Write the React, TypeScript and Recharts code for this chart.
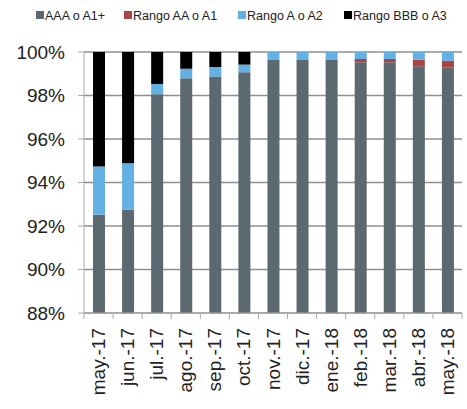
import { BarChart, Bar, XAxis, YAxis, CartesianGrid } from 'recharts'

const months = ['may.-17', 'jun.-17', 'jul.-17', 'ago.-17', 'sep.-17', 'oct.-17', 'nov.-17', 'dic.-17', 'ene.-18', 'feb.-18', 'mar.-18', 'abr.-18', 'may.-18']
const aaa = [92.52, 92.75, 98.06, 98.79, 98.87, 99.07, 99.65, 99.65, 99.65, 99.53, 99.53, 99.34, 99.28]
const aa = [0, 0, 0, 0, 0, 0, 0, 0, 0, 0.15, 0.15, 0.31, 0.32]
const a2 = [2.21, 2.13, 0.47, 0.44, 0.44, 0.35, 0.35, 0.35, 0.35, 0.32, 0.32, 0.35, 0.4]
const bbb = [5.27, 5.12, 1.47, 0.77, 0.69, 0.58, 0, 0, 0, 0, 0, 0, 0]
const yTicks = [88, 90, 92, 94, 96, 98, 100]

const SERIES = [
  { key: 'aaa', label: 'AAA o A1+', color: '#5D6971' },
  { key: 'aa', label: 'Rango AA o A1', color: '#A94442' },
  { key: 'a2', label: 'Rango A o A2', color: '#62B0E4' },
  { key: 'bbb', label: 'Rango BBB o A3', color: '#000000' },
]

const data = months.map((m, i) => ({ month: m, aaa: aaa[i], aa: aa[i], a2: a2[i], bbb: bbb[i] }))

const FONT = 'Liberation Sans, Arial, sans-serif'
const LEFT = 84
const RIGHT = 462
const BAND = (RIGHT - LEFT) / months.length

const MonthTick = (props: any) => {
  const { x, y, payload, index } = props
  const ty = y + 15
  return (
    <g>
      <line x1={x - BAND / 2} y1={y} x2={x - BAND / 2} y2={y + 6} stroke="#aaa" />
      {index === months.length - 1 && (
        <line x1={x + BAND / 2} y1={y} x2={x + BAND / 2} y2={y + 6} stroke="#aaa" />
      )}
      <text
        x={x}
        y={ty}
        transform={`rotate(-90, ${x}, ${ty})`}
        textAnchor="end"
        dominantBaseline="central"
        fontSize={19}
        fill="#222"
        fontFamily={FONT}
      >
        {payload.value}
      </text>
    </g>
  )
}

const legendX = [36, 124, 238, 344]

export default function App() {
  return (
    <div style={{ position: 'absolute', left: 0, top: 0, width: 467, height: 409, background: '#fff' }}>
      <svg width={467} height={30} style={{ position: 'absolute', left: 0, top: 0 }}>
        {SERIES.map((s, i) => (
          <g key={s.key}>
            <rect x={legendX[i]} y={11} width={8} height={8} fill={s.color} />
            <text x={legendX[i] + 9} y={15.5} dominantBaseline="central" fontSize={12.5} fill="#222" fontFamily={FONT}>
              {s.label}
            </text>
          </g>
        ))}
      </svg>
      <BarChart
        width={467}
        height={409}
        data={data}
        margin={{ top: 52, right: 467 - RIGHT, left: 0, bottom: 0 }}
        barSize={12}
      >
        <CartesianGrid vertical={false} stroke="#8f8f8f" strokeWidth={1.3} />
        <XAxis
          dataKey="month"
          height={96}
          axisLine={{ stroke: '#aaa' }}
          tickLine={false}
          tickSize={0}
          tickMargin={0}
          interval={0}
          tick={<MonthTick />}
        />
        <YAxis
          width={LEFT}
          domain={[88, 100]}
          allowDataOverflow
          ticks={yTicks}
          tickFormatter={(v: number) => `${v}%`}
          axisLine={{ stroke: '#aaa' }}
          tickLine={{ stroke: '#aaa' }}
          tickSize={6}
          tickMargin={13}
          tick={{ fontSize: 19, fill: '#222', fontFamily: FONT }}
        />
        {SERIES.map(s => (
          <Bar key={s.key} dataKey={s.key} name={s.label} stackId="a" fill={s.color} isAnimationActive={false} />
        ))}
      </BarChart>
    </div>
  )
}
